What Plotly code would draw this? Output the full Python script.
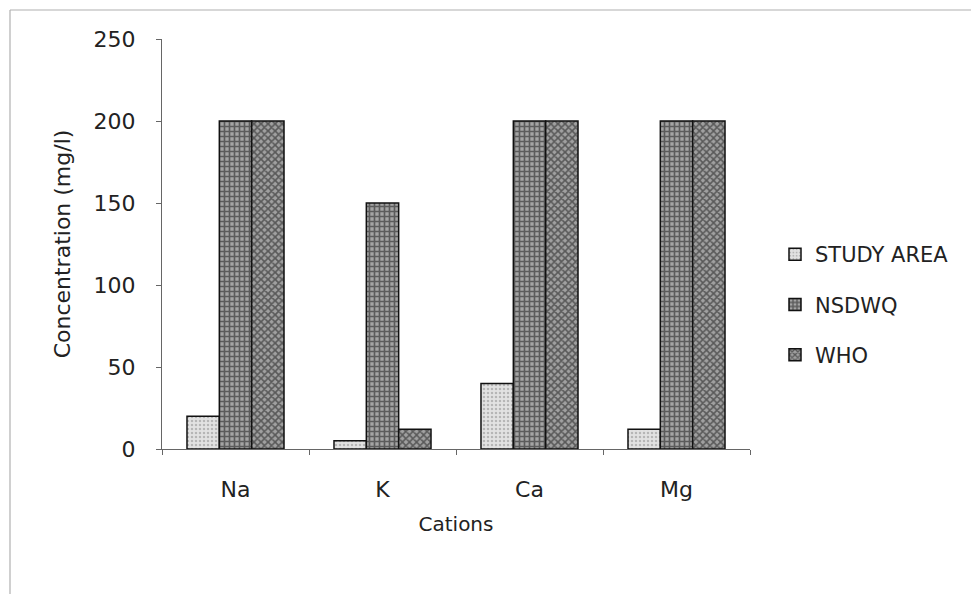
import plotly.graph_objects as go

cations = ["Na", "K", "Ca", "Mg"]
study_area = [20, 5, 40, 12]
nsdwq = [200, 150, 200, 200]
who = [200, 12, 200, 200]
series_names = ["STUDY AREA", "NSDWQ", "WHO"]

W, H = 971, 594
L, R, T, B = 162, 221, 39, 145
pw, ph = W - L - R, H - T - B

font = "'DejaVu Sans', Verdana, sans-serif"

fig = go.Figure()
styles = [
    dict(color="#dcdcdc", pattern=dict(shape=".", fgcolor="#8a8a8a", bgcolor="#e2e2e2", size=4, solidity=0.3, fillmode="overlay")),
    dict(color="#999999", pattern=dict(shape="+", fgcolor="#111111", bgcolor="#a4a4a4", size=5, solidity=0.55, fillmode="overlay")),
    dict(color="#999999", pattern=dict(shape="x", fgcolor="#111111", bgcolor="#a0a0a0", size=5, solidity=0.55, fillmode="overlay")),
]
for name, vals, st in zip(series_names, [study_area, nsdwq, who], styles):
    fig.add_trace(go.Bar(
        x=cations, y=vals, name=name, legendgroup=name,
        marker=dict(color=st["color"], pattern=st["pattern"], line=dict(color="#111111", width=1.5)),
    ))

def px_x(p):
    return (p - L) / pw

def px_y(p):
    return (H - B - p) / ph

# left and top frame lines of the original picture
fig.add_shape(type="line", xref="paper", yref="paper",
              x0=px_x(10), x1=px_x(10), y0=px_y(594), y1=px_y(10),
              line=dict(color="#b0b0b0", width=1.2), layer="below")
fig.add_shape(type="line", xref="paper", yref="paper",
              x0=px_x(10), x1=px_x(971), y0=px_y(10), y1=px_y(10),
              line=dict(color="#b0b0b0", width=1.2), layer="below")

fig.update_layout(
    width=W, height=H,
    margin=dict(l=L, r=R, t=T, b=B, autoexpand=False),
    paper_bgcolor="white", plot_bgcolor="white",
    barmode="group", bargap=0.34, bargroupgap=0,
    font=dict(family=font, size=20, color="#222222"),
    showlegend=True,
    legend=dict(x=px_x(775), y=px_y(234), xanchor="left", yanchor="top",
                font=dict(size=21, family=font, color="#222222"),
                tracegroupgap=20, bgcolor="rgba(0,0,0,0)", itemwidth=30),
    xaxis=dict(
        title=dict(text="Cations", font=dict(size=20, family=font), standoff=16),
        showline=True, linecolor="#666666", linewidth=1.2,
        ticks="outside", ticklen=5, tickcolor="#666666", tickson="boundaries",
        tickfont=dict(size=22, family=font), ticklabelstandoff=20,
        showgrid=False, range=[-0.5, 3.5],
    ),
    yaxis=dict(
        title=dict(text="Concentration (mg/l)", font=dict(size=22, family=font), standoff=16),
        range=[0, 250], dtick=50, tick0=0,
        showline=True, linecolor="#666666", linewidth=1.2,
        ticks="outside", ticklen=5, tickcolor="#666666",
        tickfont=dict(size=22, family=font), ticklabelstandoff=16,
        showgrid=False, zeroline=False,
    ),
)

fig.write_html("out.html", config={"displayModeBar": False},
               post_script="document.body.style.margin='0px';")
